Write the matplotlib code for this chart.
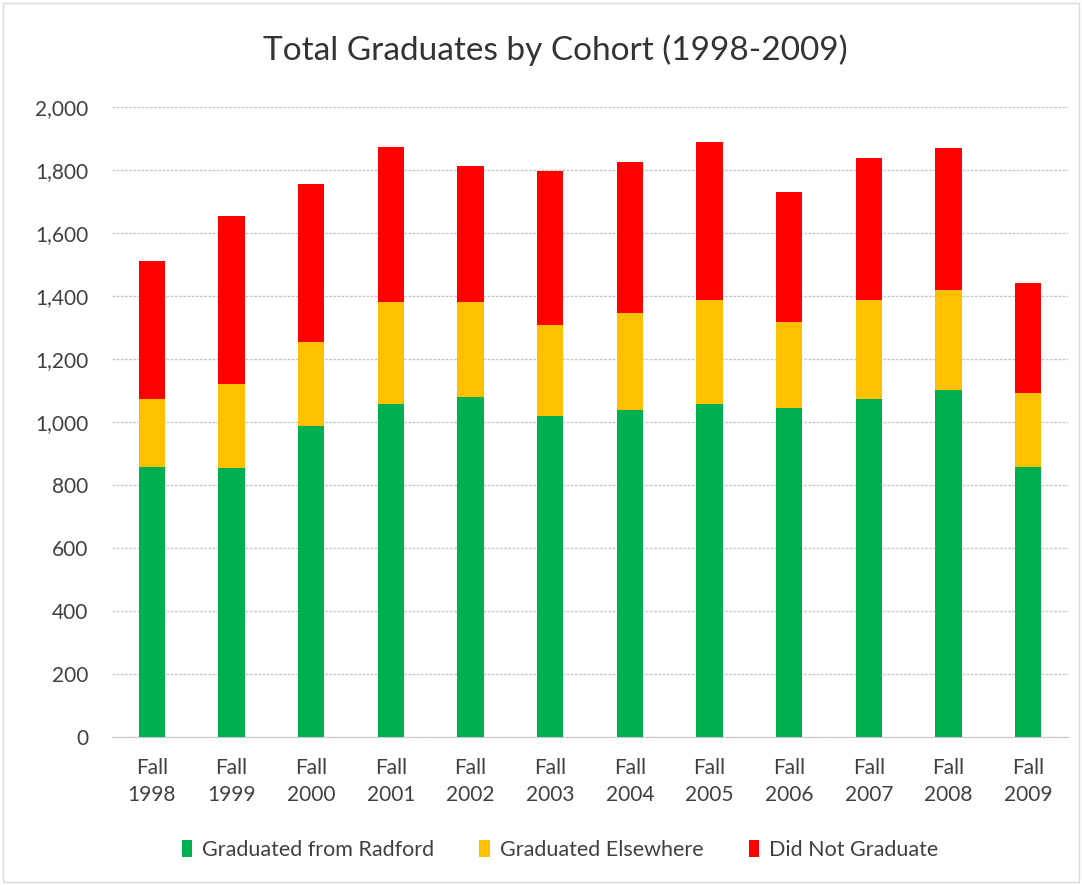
import numpy as np
import matplotlib.pyplot as plt
from matplotlib.patches import Rectangle

plt.rcParams['font.family'] = ['Lato', 'DejaVu Sans']

cohorts = ["Fall\n1998", "Fall\n1999", "Fall\n2000", "Fall\n2001", "Fall\n2002", "Fall\n2003",
           "Fall\n2004", "Fall\n2005", "Fall\n2006", "Fall\n2007", "Fall\n2008", "Fall\n2009"]
radford = [857, 854, 987, 1057, 1079, 1019, 1038, 1057, 1044, 1073, 1102, 857]
elsewhere_top = [1073, 1121, 1254, 1381, 1381, 1308, 1346, 1387, 1317, 1387, 1419, 1092]
total = [1511, 1654, 1756, 1873, 1813, 1797, 1825, 1889, 1730, 1838, 1870, 1441]

elsewhere = [e - r for e, r in zip(elsewhere_top, radford)]
not_grad = [t - e for t, e in zip(total, elsewhere_top)]

fig = plt.figure(figsize=(10.82, 8.85), dpi=100)
ax = fig.add_axes([112 / 1082, 1 - 737 / 885, 956 / 1082, 630 / 885])

x = np.arange(len(cohorts))
w = 0.33
ax.bar(x, radford, w, color='#00b050', label='Graduated from Radford', zorder=3)
ax.bar(x, elsewhere, w, bottom=radford, color='#ffc000', label='Graduated Elsewhere', zorder=3)
ax.bar(x, not_grad, w, bottom=elsewhere_top, color='#ff0000', label='Did Not Graduate', zorder=3)

ax.set_xlim(-0.5, len(cohorts) - 0.5)
ax.set_ylim(0, 2000)
ax.set_yticks(range(0, 2001, 200))
ax.set_yticklabels([f"{v:,}" for v in range(0, 2001, 200)])
ax.set_xticks(x)
ax.set_xticklabels(cohorts, linespacing=1.45)
ax.yaxis.grid(True, color='#c8c8c8', linestyle=(0, (2, 1)), linewidth=1, zorder=0)
for s in ['top', 'right', 'left']:
    ax.spines[s].set_visible(False)
ax.spines['bottom'].set_color('#c8c8c8')
ax.tick_params(axis='both', length=0, labelsize=15, colors='#404040')
ax.tick_params(axis='y', pad=17)
ax.tick_params(axis='x', pad=15)

fig.text(555 / 1082, 1 - 50 / 885, "Total Graduates by Cohort (1998-2009)", ha='center', va='center',
         fontsize=24, color='#333333')

leg = fig.legend(loc='center', bbox_to_anchor=(560 / 1082, 1 - 850 / 885), ncol=3, frameon=False,
                 fontsize=15.5, handlelength=0.5, handleheight=0.8, columnspacing=2.1,
                 handletextpad=0.45, labelcolor='#404040')

fig.patches.append(Rectangle((0.003, 0.003), 0.994, 0.994, transform=fig.transFigure,
                             fill=False, edgecolor='#d9d9d9', linewidth=1))

fig.savefig("out.png", dpi=100)
